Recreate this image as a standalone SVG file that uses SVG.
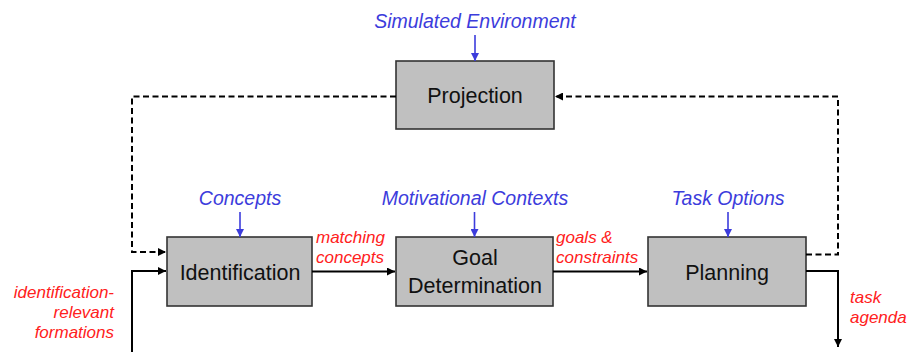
<svg xmlns="http://www.w3.org/2000/svg" width="907" height="352" viewBox="0 0 907 352">
  <defs>
    <style>
      .box { fill: #c0c0c0; stroke: #333333; stroke-width: 1.6; }
      .name { font-family: "Liberation Sans", Arial, sans-serif; font-size: 21.5px; fill: #111111; text-anchor: middle; }
      .src { font-family: "Liberation Sans", Arial, sans-serif; font-size: 19.5px; font-style: italic; fill: #3c3cdc; text-anchor: middle; }
      .flow { font-family: "Liberation Sans", Arial, sans-serif; font-size: 17px; font-style: italic; fill: #ff2020; }
      .solid { fill: none; stroke: #000000; stroke-width: 2; }
      .dash { fill: none; stroke: #000000; stroke-width: 2; stroke-dasharray: 6 3.5; }
      .feed { fill: none; stroke: #3c3cdc; stroke-width: 1.6; }
    </style>
    <marker id="ah" viewBox="0 0 10 10" refX="10" refY="5" markerWidth="8" markerHeight="8" markerUnits="userSpaceOnUse" orient="auto">
      <path d="M0,0 L10,5 L0,10 Z" fill="#000000"/>
    </marker>
    <marker id="ahb" viewBox="0 0 10 10" refX="10" refY="5" markerWidth="8" markerHeight="8" markerUnits="userSpaceOnUse" orient="auto">
      <path d="M0,0 L10,5 L0,10 Z" fill="#3c3cdc"/>
    </marker>
  </defs>

  <!-- process blocks -->
  <g id="projection">
    <rect class="box" x="396" y="61" width="158" height="68"/>
    <text class="name" x="475" y="103">Projection</text>
  </g>
  <g id="identification">
    <rect class="box" x="167" y="237" width="145" height="69"/>
    <text class="name" x="240" y="280">Identification</text>
  </g>
  <g id="goal-determination">
    <rect class="box" x="396" y="237" width="157" height="69"/>
    <text class="name" x="475" y="265">Goal</text>
    <text class="name" x="475" y="293">Determination</text>
  </g>
  <g id="planning">
    <rect class="box" x="648" y="237" width="158" height="69"/>
    <text class="name" x="727" y="280">Planning</text>
  </g>

  <!-- knowledge sources feeding each block -->
  <g id="sources">
    <text class="src" x="475" y="28">Simulated Environment</text>
    <text class="src" x="240" y="205">Concepts</text>
    <text class="src" x="475" y="205">Motivational Contexts</text>
    <text class="src" x="728" y="205">Task Options</text>
  </g>

  <!-- flow labels -->
  <g id="labels">
    <text class="flow" x="316" y="243">matching</text>
    <text class="flow" x="316" y="263">concepts</text>
    <text class="flow" x="556" y="243">goals &amp;</text>
    <text class="flow" x="556" y="263">constraints</text>
    <text class="flow" x="850" y="303">task</text>
    <text class="flow" x="850" y="323">agenda</text>
    <text class="flow" x="114" y="298" text-anchor="end">identification-</text>
    <text class="flow" x="114" y="318" text-anchor="end">relevant</text>
    <text class="flow" x="114" y="338" text-anchor="end">formations</text>
  </g>

  <!-- connectors -->
  <g id="connectors">
    <line class="feed" x1="475" y1="35" x2="475" y2="61" marker-end="url(#ahb)"/>
    <line class="feed" x1="240" y1="212" x2="240" y2="237" marker-end="url(#ahb)"/>
    <line class="feed" x1="474.5" y1="212" x2="474.5" y2="237" marker-end="url(#ahb)"/>
    <line class="feed" x1="728" y1="212" x2="728" y2="237" marker-end="url(#ahb)"/>

    <path class="solid" d="M132,352 V271 H166" marker-end="url(#ah)"/>
    <path class="solid" d="M312,271.5 H395" marker-end="url(#ah)"/>
    <path class="solid" d="M553,271.5 H647" marker-end="url(#ah)"/>
    <path class="solid" d="M806,271 H838 V347" marker-end="url(#ah)"/>

    <path class="dash" d="M396,96.5 H132 V252 H166" marker-end="url(#ah)"/>
    <path class="dash" d="M806,254.5 H838 V96.5 H555" marker-end="url(#ah)"/>
  </g>
</svg>
